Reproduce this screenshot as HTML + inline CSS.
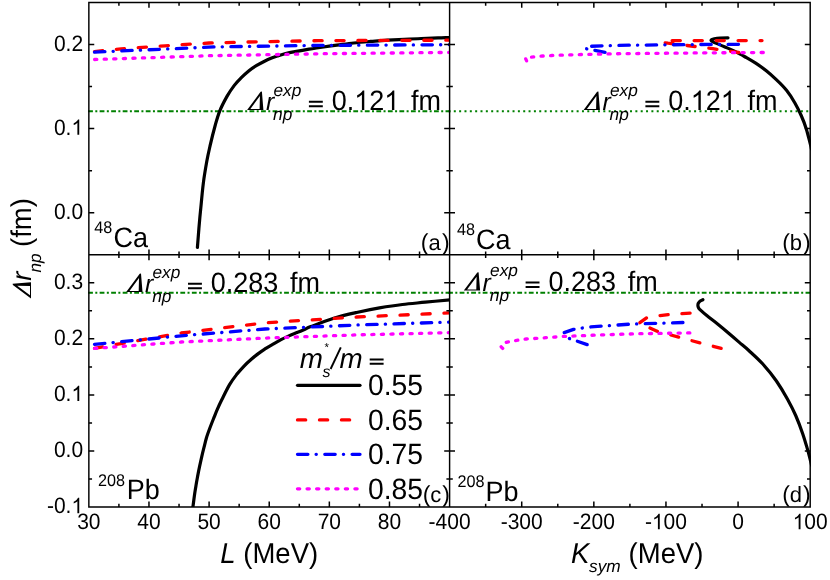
<!DOCTYPE html>
<html><head><meta charset="utf-8"><title>chart</title>
<style>html,body{margin:0;padding:0;background:#fff;}svg{display:block;will-change:transform;}text{font-family:"Liberation Sans",sans-serif;fill:#000;text-rendering:geometricPrecision;}.i{font-style:italic;}</style></head><body>
<svg width="830" height="580" viewBox="0 0 830 580">
<rect width="830" height="580" fill="#fff"/>
<defs>
<clipPath id="ca"><rect x="88.85" y="2.45" width="360.75" height="252.35000000000002"/></clipPath>
<clipPath id="cb"><rect x="449.6" y="2.45" width="361.40000000000003" height="252.35000000000002"/></clipPath>
<clipPath id="cc"><rect x="88.85" y="254.8" width="360.75" height="252.2"/></clipPath>
<clipPath id="cd"><rect x="449.6" y="254.8" width="361.40000000000003" height="252.2"/></clipPath>
</defs>
<g fill="none" stroke="#008000" stroke-width="2.0">
<path d="M88.1 111.26H450.40000000000003" stroke-dasharray="4.8 2.4 2.0 2.33"/>
<path d="M448.46 111.26H810.2" stroke-dasharray="2 3.34"/>
<path d="M88.1 292.65H450.3" stroke-dasharray="4.8 2.4 2.0 2.33"/>
<path d="M448.1 292.65H810.2" stroke-dasharray="4.8 2.4 2.0 2.33"/>
</g>
<g clip-path="url(#ca)" fill="none" stroke-linejoin="round" stroke-linecap="round">
<path d="M197.4 247.5C197.7 244.3 198.3 235.8 198.9 228.5C199.5 221.2 200.4 211.6 201.2 203.9C201.9 196.2 202.5 189.7 203.4 182.6C204.3 175.5 205.7 167.5 206.8 161.3C207.9 155.2 208.7 151.8 210.1 145.7C211.5 139.6 213.7 130.8 215.3 125.0C216.9 119.2 217.8 115.9 219.7 111.1C221.6 106.3 224.6 100.7 227.0 96.4C229.4 92.1 231.9 88.6 234.3 85.4C236.7 82.2 239.2 79.8 241.6 77.4C244.0 75.0 246.6 72.8 249.0 70.8C251.4 68.8 253.9 67.2 256.3 65.7C258.7 64.2 261.2 62.9 263.6 61.7C266.1 60.5 268.6 59.3 271.0 58.3C273.4 57.3 275.9 56.5 278.3 55.7C280.7 54.9 282.8 54.2 285.6 53.5C288.4 52.8 291.1 52.3 295.0 51.6C298.9 50.9 304.8 49.9 309.0 49.2C313.2 48.5 315.4 48.2 320.0 47.5C324.6 46.8 331.3 45.9 336.9 45.1C342.5 44.4 348.1 43.6 353.7 43.0C359.3 42.4 365.0 41.9 370.6 41.4C376.2 40.9 381.9 40.6 387.5 40.2C393.1 39.9 398.7 39.6 404.3 39.3C409.9 39.0 415.6 38.7 421.2 38.5C426.8 38.3 433.2 38.1 438.0 37.9C442.8 37.7 448.0 37.6 450.0 37.5" stroke="#000" stroke-width="3.2" stroke-linecap="round"/>
<path d="M94.5 51.7 L104.0 50.6 L121.0 48.8 L165.0 45.8 L209.0 43.0 L260.0 41.7 L318.0 40.7 L380.0 40.4 L450.0 40.2" stroke="#ff0000" stroke-width="3.3" stroke-dasharray="8.2 13.78"/>
<path d="M94.5 52.1 L215.0 46.9 L318.0 45.4 L450.0 44.7" stroke="#0000ff" stroke-width="3.3" stroke-dasharray="10.4 8.2 0.2 8.5"/>
<path d="M94.6 59.5 L210.0 55.7 L325.0 53.7 L450.0 52.4" stroke="#ff00ff" stroke-width="3.3" stroke-dasharray="2.2 7.37"/>
</g>
<g clip-path="url(#cb)" fill="none" stroke-linejoin="round" stroke-linecap="round">
<path d="M728.0 37.8C726.7 37.8 722.3 37.9 720.0 38.0C717.7 38.1 715.7 38.4 714.3 38.7C712.9 39.0 712.1 39.4 711.6 39.7C711.1 40.0 711.0 40.3 711.1 40.6C711.2 40.9 711.7 41.2 712.5 41.6C713.3 42.0 713.7 42.2 715.7 43.1C717.7 44.0 721.2 45.3 724.4 46.7C727.6 48.1 731.5 49.7 735.0 51.4C738.5 53.1 741.8 55.0 745.3 57.0C748.8 59.0 752.2 60.9 755.7 63.2C759.2 65.5 762.6 67.8 766.0 70.6C769.4 73.3 772.8 76.4 776.3 79.7C779.8 83.0 783.6 86.7 786.7 90.6C789.8 94.5 792.5 98.8 794.9 103.0C797.3 107.2 799.3 111.2 801.2 115.5C803.1 119.8 804.8 124.1 806.3 128.9C807.8 133.7 809.5 141.1 810.4 144.4C811.3 147.8 811.3 148.2 811.5 149.0" stroke="#000" stroke-width="3.2" stroke-linecap="round"/>
<path d="M738.7 52.5 L712.8 48.7 L691.1 46.0 L668.0 43.2 L663.2 42.5 L662.0 41.7 L664.2 40.8 L672.0 40.6 L762.0 40.6" stroke="#ff0000" stroke-width="3.3" stroke-dasharray="8.2 13.78"/>
<path d="M605.1 52.3 L585.1 48.5 L590.9 46.3 L603.6 45.8 L630.0 45.2 L658.7 44.9 L700.0 44.5 L746.6 44.3" stroke="#0000ff" stroke-width="3.3" stroke-dasharray="10.4 8.2 0.2 8.5"/>
<path d="M526.6 60.9 L525.3 57.9 L527.6 57.3 L534.4 56.9 L543.0 56.0 L552.0 55.5 L562.0 55.1 L581.9 54.5 L600.8 54.1 L619.8 53.7 L658.7 53.3 L700.0 52.9 L764.3 52.5" stroke="#ff00ff" stroke-width="3.3" stroke-dasharray="2.2 7.37"/>
</g>
<g clip-path="url(#cc)" fill="none" stroke-linejoin="round" stroke-linecap="round">
<path d="M192.3 509.0C192.4 508.6 192.6 508.7 193.0 506.3C193.4 503.9 194.0 498.4 194.5 494.9C195.0 491.4 195.5 488.6 196.0 485.4C196.5 482.2 197.1 479.1 197.7 475.9C198.3 472.7 198.9 469.6 199.6 466.4C200.3 463.2 201.0 460.1 201.7 456.9C202.4 453.7 203.2 450.5 204.0 447.4C204.8 444.2 205.5 441.1 206.4 438.0C207.3 434.9 208.5 431.7 209.7 428.5C210.9 425.3 212.1 422.2 213.4 419.0C214.7 415.8 215.9 412.6 217.3 409.4C218.7 406.1 219.8 403.7 221.9 399.5C224.0 395.3 227.2 388.6 229.7 384.4C232.2 380.2 234.6 377.2 237.0 374.1C239.4 371.0 241.9 368.3 244.3 365.8C246.7 363.3 249.2 361.1 251.6 359.0C254.0 356.9 256.6 354.9 259.0 353.1C261.4 351.3 263.9 349.8 266.3 348.2C268.7 346.6 271.2 345.2 273.6 343.8C276.1 342.4 278.6 341.0 281.0 339.7C283.4 338.4 285.9 337.2 288.3 336.1C290.7 335.0 292.8 334.2 295.6 333.1C298.4 332.0 302.5 330.3 305.0 329.2C307.5 328.1 306.0 328.4 310.8 326.6C315.6 324.8 326.1 320.7 333.7 318.3C341.3 315.9 349.0 314.2 356.6 312.5C364.2 310.8 371.9 309.2 379.5 307.9C387.1 306.6 394.8 305.4 402.4 304.5C410.0 303.6 417.4 303.0 425.3 302.2C433.2 301.4 445.9 300.2 450.0 299.8" stroke="#000" stroke-width="3.2" stroke-linecap="round"/>
<path d="M94.5 348.3 L181.2 333.0 L265.0 322.8 L356.6 317.0 L450.0 312.9" stroke="#ff0000" stroke-width="3.3" stroke-dasharray="8.2 13.78"/>
<path d="M94.5 344.4 L181.2 335.8 L265.0 329.0 L356.6 325.0 L450.0 322.1" stroke="#0000ff" stroke-width="3.3" stroke-dasharray="10.4 8.2 0.2 8.5"/>
<path d="M94.6 348.4 L181.2 342.0 L265.0 338.1 L356.6 334.9 L450.0 332.6" stroke="#ff00ff" stroke-width="3.3" stroke-dasharray="2.2 7.37"/>
</g>
<g clip-path="url(#cd)" fill="none" stroke-linejoin="round" stroke-linecap="round">
<path d="M702.9 299.7C702.5 299.9 701.0 300.4 700.2 301.0C699.4 301.6 698.7 302.6 698.3 303.3C697.9 304.1 697.9 304.8 697.9 305.5C697.9 306.2 698.1 306.9 698.5 307.6C698.9 308.3 698.6 308.3 700.0 309.6C701.4 310.9 703.9 313.2 706.8 315.6C709.7 318.0 714.0 321.1 717.6 324.0C721.2 326.9 724.8 329.9 728.4 333.0C732.0 336.1 735.9 339.5 739.3 342.4C742.7 345.3 744.9 346.9 748.8 350.5C752.7 354.1 758.0 358.7 762.6 363.8C767.2 368.9 772.3 375.1 776.4 381.0C780.5 386.9 784.2 393.2 787.4 399.0C790.6 404.8 793.2 409.8 795.7 415.5C798.2 421.2 800.7 427.9 802.6 433.4C804.5 438.9 805.9 443.8 807.3 448.6C808.7 453.4 810.2 459.6 810.9 462.4C811.6 465.2 811.5 465.0 811.6 465.5" stroke="#000" stroke-width="3.2" stroke-linecap="round"/>
<path d="M721.2 348.3 L701.3 343.3 L679.6 337.4 L657.0 331.2 L648.9 327.6 L638.6 323.6 L647.1 317.5 L658.9 315.8 L669.7 314.4 L691.9 313.0" stroke="#ff0000" stroke-width="3.3" stroke-dasharray="8.2 13.78"/>
<path d="M587.2 344.6 L569.5 338.6 L563.8 332.7 L573.5 329.4 L581.8 328.1 L589.1 327.1 L602.4 326.1 L629.0 324.2 L657.0 323.3 L683.6 322.5" stroke="#0000ff" stroke-width="3.3" stroke-dasharray="10.4 8.2 0.2 8.5"/>
<path d="M502.7 348.4 L501.0 346.6 L503.5 343.2 L507.3 342.1 L516.7 340.4 L526.4 339.0 L535.9 338.4 L546.0 337.7 L556.0 337.0 L564.0 336.4 L584.0 335.6 L603.0 334.8 L622.8 334.2 L640.0 333.7 L690.0 332.9" stroke="#ff00ff" stroke-width="3.3" stroke-dasharray="2.2 7.37"/>
</g>
<g fill="none" stroke-linecap="round">
<path d="M297.5 385.3H360.0" stroke="#000" stroke-width="3.2"/>
<path d="M297.5 419.9H360.0" stroke="#ff0000" stroke-width="3.3" stroke-dasharray="8.2 13.78"/>
<path d="M297.5 454.3H360.0" stroke="#0000ff" stroke-width="3.3" stroke-dasharray="10.4 8.2 0.2 8.5"/>
<path d="M297.5 488.8H360.0" stroke="#ff00ff" stroke-width="3.3" stroke-dasharray="2.2 7.37"/>
</g>
<path d="M88.85 2.45H810.2V507.0H88.85ZM449.6 2.45V507.0M88.85 254.8H810.2" fill="none" stroke="#000" stroke-width="1.45"/>
<path d="M118.91 2.45v3.2M118.91 251.60000000000002v6.4M118.91 507.0v-3.2M148.97 2.45v5.4M148.97 249.4v10.8M148.97 507.0v-5.4M179.04 2.45v3.2M179.04 251.60000000000002v6.4M179.04 507.0v-3.2M209.10 2.45v5.4M209.10 249.4v10.8M209.10 507.0v-5.4M239.16 2.45v3.2M239.16 251.60000000000002v6.4M239.16 507.0v-3.2M269.23 2.45v5.4M269.23 249.4v10.8M269.23 507.0v-5.4M299.29 2.45v3.2M299.29 251.60000000000002v6.4M299.29 507.0v-3.2M329.35 2.45v5.4M329.35 249.4v10.8M329.35 507.0v-5.4M359.41 2.45v3.2M359.41 251.60000000000002v6.4M359.41 507.0v-3.2M389.48 2.45v5.4M389.48 249.4v10.8M389.48 507.0v-5.4M419.54 2.45v3.2M419.54 251.60000000000002v6.4M419.54 507.0v-3.2M485.66 2.45v3.2M485.66 251.60000000000002v6.4M485.66 507.0v-3.2M521.72 2.45v5.4M521.72 249.4v10.8M521.72 507.0v-5.4M557.78 2.45v3.2M557.78 251.60000000000002v6.4M557.78 507.0v-3.2M593.84 2.45v5.4M593.84 249.4v10.8M593.84 507.0v-5.4M629.90 2.45v3.2M629.90 251.60000000000002v6.4M629.90 507.0v-3.2M665.96 2.45v5.4M665.96 249.4v10.8M665.96 507.0v-5.4M702.02 2.45v3.2M702.02 251.60000000000002v6.4M702.02 507.0v-3.2M738.08 2.45v5.4M738.08 249.4v10.8M738.08 507.0v-5.4M774.14 2.45v3.2M774.14 251.60000000000002v6.4M774.14 507.0v-3.2M88.85 44.51h5.4M444.20000000000005 44.51h10.8M810.2 44.51h-5.4M88.85 86.57h3.2M446.40000000000003 86.57h6.4M810.2 86.57h-3.2M88.85 128.62h5.4M444.20000000000005 128.62h10.8M810.2 128.62h-5.4M88.85 170.68h3.2M446.40000000000003 170.68h6.4M810.2 170.68h-3.2M88.85 212.74h5.4M444.20000000000005 212.74h10.8M810.2 212.74h-5.4M88.85 282.82h5.4M444.20000000000005 282.82h10.8M810.2 282.82h-5.4M88.85 310.84h3.2M446.40000000000003 310.84h6.4M810.2 310.84h-3.2M88.85 338.87h5.4M444.20000000000005 338.87h10.8M810.2 338.87h-5.4M88.85 366.89h3.2M446.40000000000003 366.89h6.4M810.2 366.89h-3.2M88.85 394.91h5.4M444.20000000000005 394.91h10.8M810.2 394.91h-5.4M88.85 422.93h3.2M446.40000000000003 422.93h6.4M810.2 422.93h-3.2M88.85 450.96h5.4M444.20000000000005 450.96h10.8M810.2 450.96h-5.4M88.85 478.98h3.2M446.40000000000003 478.98h6.4M810.2 478.98h-3.2" fill="none" stroke="#000" stroke-width="1.5" stroke-linecap="butt"/>
<text transform="translate(53.91 50.71) scale(1 1.06)" font-size="21.0">0.2</text>
<text transform="translate(53.91 134.82) scale(1 1.06)" font-size="21.0">0.</text>
<path transform="translate(71.42 134.82) scale(0.01025 -0.01044)" d="M763 0H583V1147Q518 1085 412.5 1023T223 930V1104Q374 1175 487 1276T647 1472H763Z" fill="#000"/>
<text transform="translate(53.91 218.94) scale(1 1.06)" font-size="21.0">0.0</text>
<text transform="translate(53.91 289.02) scale(1 1.06)" font-size="21.0">0.3</text>
<text transform="translate(53.91 345.07) scale(1 1.06)" font-size="21.0">0.2</text>
<text transform="translate(53.91 401.11) scale(1 1.06)" font-size="21.0">0.</text>
<path transform="translate(71.42 401.11) scale(0.01025 -0.01044)" d="M763 0H583V1147Q518 1085 412.5 1023T223 930V1104Q374 1175 487 1276T647 1472H763Z" fill="#000"/>
<text transform="translate(53.91 457.16) scale(1 1.06)" font-size="21.0">0.0</text>
<text transform="translate(46.91 513.20) scale(1 1.06)" font-size="21.0">-0.</text>
<path transform="translate(71.42 513.20) scale(0.01025 -0.01044)" d="M763 0H583V1147Q518 1085 412.5 1023T223 930V1104Q374 1175 487 1276T647 1472H763Z" fill="#000"/>
<text transform="translate(77.17 529.20) scale(1 1.06)" font-size="21.0">30</text>
<text transform="translate(137.30 529.20) scale(1 1.06)" font-size="21.0">40</text>
<text transform="translate(197.42 529.20) scale(1 1.06)" font-size="21.0">50</text>
<text transform="translate(257.55 529.20) scale(1 1.06)" font-size="21.0">60</text>
<text transform="translate(317.67 529.20) scale(1 1.06)" font-size="21.0">70</text>
<text transform="translate(377.80 529.20) scale(1 1.06)" font-size="21.0">80</text>
<text transform="translate(428.58 529.20) scale(1 1.06)" font-size="21.0">-400</text>
<text transform="translate(500.70 529.20) scale(1 1.06)" font-size="21.0">-300</text>
<text transform="translate(572.82 529.20) scale(1 1.06)" font-size="21.0">-200</text>
<text transform="translate(644.94 529.20) scale(1 1.06)" font-size="21.0">-</text>
<path transform="translate(651.94 529.20) scale(0.01025 -0.01044)" d="M763 0H583V1147Q518 1085 412.5 1023T223 930V1104Q374 1175 487 1276T647 1472H763Z" fill="#000"/>
<text transform="translate(663.62 529.20) scale(1 1.06)" font-size="21.0">00</text>
<text transform="translate(732.24 529.20) scale(1 1.06)" font-size="21.0">0</text>
<path transform="translate(792.68 529.20) scale(0.01025 -0.01044)" d="M763 0H583V1147Q518 1085 412.5 1023T223 930V1104Q374 1175 487 1276T647 1472H763Z" fill="#000"/>
<text transform="translate(804.36 529.20) scale(1 1.06)" font-size="21.0">00</text>
<text transform="translate(220.30 562.60) scale(1 1.04)" font-size="27.5" class="i">L</text>
<text transform="translate(243.30 562.60) scale(1 1.04)" font-size="27.5">(MeV)</text>
<text transform="translate(571.00 562.60) scale(1 1.04)" font-size="27.5" class="i">K</text>
<text x="589.00" y="571.60" font-size="17.3" class="i">sym</text>
<text transform="translate(628.60 562.60) scale(1 1.04)" font-size="27.5">(MeV)</text>
<g transform="translate(31.0 298.6) rotate(-90)">
<path d="M0 0L13.5 -18.1L14.8 -18.4L16.3 0ZM3.3 -1.0L12.8 -13.8L12.5 -1.0Z" fill="#000" fill-rule="evenodd"/>
<text x="17.90" y="0.00" font-size="27.5" class="i">r</text>
<text x="26.00" y="9.70" font-size="17.3" class="i">np</text>
<text transform="translate(51.60 0.00) scale(1 1.04)" font-size="27.5">(fm)</text>
</g>
<path transform="translate(247.1 109.9)" d="M0 0L13.5 -18.1L14.8 -18.4L16.3 0ZM3.3 -1.0L12.8 -13.8L12.5 -1.0Z" fill="#000" fill-rule="evenodd"/>
<text x="265.90" y="109.90" font-size="24.8" class="i">r</text>
<text x="273.40" y="95.60" font-size="17.3" class="i">exp</text>
<text x="273.10" y="119.90" font-size="17.3" class="i">np</text>
<path d="M308.90 101.75h13.9M308.90 106.30h13.9" stroke="#000" stroke-width="1.9" fill="none"/>
<text transform="translate(331.70 109.90) scale(1 1.04)" font-size="27">0.</text>
<path transform="translate(354.22 109.90) scale(0.01318 -0.01317)" d="M763 0H583V1147Q518 1085 412.5 1023T223 930V1104Q374 1175 487 1276T647 1472H763Z" fill="#000"/>
<text transform="translate(369.23 109.90) scale(1 1.04)" font-size="27">2</text>
<path transform="translate(384.25 109.90) scale(0.01318 -0.01317)" d="M763 0H583V1147Q518 1085 412.5 1023T223 930V1104Q374 1175 487 1276T647 1472H763Z" fill="#000"/>
<text transform="translate(411.00 109.90) scale(1 1.04)" font-size="27">fm</text>
<path transform="translate(583.6 109.9)" d="M0 0L13.5 -18.1L14.8 -18.4L16.3 0ZM3.3 -1.0L12.8 -13.8L12.5 -1.0Z" fill="#000" fill-rule="evenodd"/>
<text x="602.40" y="109.90" font-size="24.8" class="i">r</text>
<text x="609.90" y="95.60" font-size="17.3" class="i">exp</text>
<text x="609.60" y="119.90" font-size="17.3" class="i">np</text>
<path d="M645.40 101.75h13.9M645.40 106.30h13.9" stroke="#000" stroke-width="1.9" fill="none"/>
<text transform="translate(668.20 109.90) scale(1 1.04)" font-size="27">0.</text>
<path transform="translate(690.72 109.90) scale(0.01318 -0.01317)" d="M763 0H583V1147Q518 1085 412.5 1023T223 930V1104Q374 1175 487 1276T647 1472H763Z" fill="#000"/>
<text transform="translate(705.73 109.90) scale(1 1.04)" font-size="27">2</text>
<path transform="translate(720.75 109.90) scale(0.01318 -0.01317)" d="M763 0H583V1147Q518 1085 412.5 1023T223 930V1104Q374 1175 487 1276T647 1472H763Z" fill="#000"/>
<text transform="translate(747.50 109.90) scale(1 1.04)" font-size="27">fm</text>
<path transform="translate(126.2 291.9)" d="M0 0L13.5 -18.1L14.8 -18.4L16.3 0ZM3.3 -1.0L12.8 -13.8L12.5 -1.0Z" fill="#000" fill-rule="evenodd"/>
<text x="145.00" y="291.90" font-size="24.8" class="i">r</text>
<text x="152.50" y="277.60" font-size="17.3" class="i">exp</text>
<text x="152.20" y="301.90" font-size="17.3" class="i">np</text>
<path d="M188.00 283.75h13.9M188.00 288.30h13.9" stroke="#000" stroke-width="1.9" fill="none"/>
<text transform="translate(210.80 291.90) scale(1 1.04)" font-size="27">0.283</text>
<text transform="translate(290.10 291.90) scale(1 1.04)" font-size="27">fm</text>
<path transform="translate(463.8 290.6)" d="M0 0L13.5 -18.1L14.8 -18.4L16.3 0ZM3.3 -1.0L12.8 -13.8L12.5 -1.0Z" fill="#000" fill-rule="evenodd"/>
<text x="482.60" y="290.60" font-size="24.8" class="i">r</text>
<text x="490.10" y="276.30" font-size="17.3" class="i">exp</text>
<text x="489.80" y="300.60" font-size="17.3" class="i">np</text>
<path d="M525.60 282.45h13.9M525.60 287.00h13.9" stroke="#000" stroke-width="1.9" fill="none"/>
<text transform="translate(548.40 290.60) scale(1 1.04)" font-size="27">0.283</text>
<text transform="translate(627.70 290.60) scale(1 1.04)" font-size="27">fm</text>
<text transform="translate(94.30 233.30) scale(1 1.04)" font-size="16.2">48</text>
<text transform="translate(113.40 247.20) scale(1 1.04)" font-size="27">Ca</text>
<text transform="translate(457.00 235.20) scale(1 1.04)" font-size="16.2">48</text>
<text transform="translate(476.10 249.10) scale(1 1.04)" font-size="27">Ca</text>
<text transform="translate(97.90 485.50) scale(1 1.04)" font-size="16.2">208</text>
<text transform="translate(126.65 499.40) scale(1 1.04)" font-size="27">Pb</text>
<text transform="translate(457.60 487.40) scale(1 1.04)" font-size="16.2">208</text>
<text transform="translate(485.55 501.30) scale(1 1.04)" font-size="27">Pb</text>
<text x="420.67" y="250.00" font-size="23">(</text>
<text x="428.38" y="250.00" font-size="22">a</text>
<text x="442.07" y="250.00" font-size="23">)</text>
<text x="782.17" y="250.00" font-size="23">(</text>
<text x="789.65" y="250.00" font-size="22">b</text>
<text x="802.97" y="250.00" font-size="23">)</text>
<text x="422.77" y="502.30" font-size="23">(</text>
<text x="430.22" y="502.30" font-size="22">c</text>
<text x="442.37" y="502.30" font-size="23">)</text>
<text x="782.17" y="502.30" font-size="23">(</text>
<text x="789.83" y="502.30" font-size="22">d</text>
<text x="802.97" y="502.30" font-size="23">)</text>
<text x="299.70" y="367.50" font-size="27.8" class="i">m</text>
<text x="322.50" y="377.30" font-size="16" class="i">s</text>
<text x="324.10" y="351.40" font-size="11.5" class="i">*</text>
<path d="M330.6 369.0L340.8 347.3" stroke="#000" stroke-width="1.9" fill="none"/>
<text x="339.60" y="367.50" font-size="27.8" class="i">m</text>
<path d="M369.7 359.45h13.9M369.7 363.8h13.9" stroke="#000" stroke-width="1.9" fill="none"/>
<text transform="translate(367.90 394.80) scale(1 1.04)" font-size="28.3">0.55</text>
<text transform="translate(367.90 429.60) scale(1 1.04)" font-size="28.3">0.65</text>
<text transform="translate(367.90 464.00) scale(1 1.04)" font-size="28.3">0.75</text>
<text transform="translate(367.90 499.20) scale(1 1.04)" font-size="28.3">0.85</text>
</svg></body></html>
